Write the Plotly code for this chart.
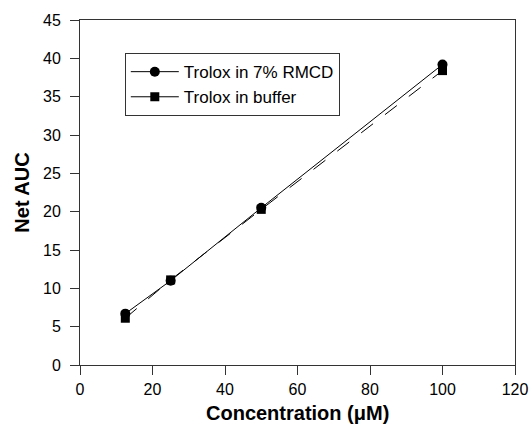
import plotly.graph_objects as go

conc = [12.5, 25, 50, 100]
auc_rmcd = [6.7, 11.0, 20.5, 39.2]
auc_buffer = [6.1, 11.1, 20.3, 38.4]
name_rmcd = "Trolox in 7% RMCD"
name_buffer = "Trolox in buffer"
x_ticks = [0, 20, 40, 60, 80, 100, 120]
y_ticks = [0, 5, 10, 15, 20, 25, 30, 35, 40, 45]
x_title = "<b>Concentration (\u03bcM)</b>"
y_title = "<b>Net AUC</b>"

FONT = "Arial, Liberation Sans"

fig = go.Figure()
# connecting lines
fig.add_trace(go.Scatter(x=conc, y=auc_rmcd, mode="lines", line=dict(color="black", width=1),
                         showlegend=False, hoverinfo="skip"))
fig.add_trace(go.Scatter(x=conc, y=auc_buffer, mode="lines", line=dict(color="black", width=1, dash="longdash"),
                         showlegend=False, hoverinfo="skip"))
# markers
fig.add_trace(go.Scatter(x=conc, y=auc_buffer, mode="markers", name=name_buffer,
                         marker=dict(symbol="square", size=9, color="black"), showlegend=False))
fig.add_trace(go.Scatter(x=conc, y=auc_rmcd, mode="markers", name=name_rmcd,
                         marker=dict(symbol="circle", size=10, color="black"), showlegend=False))
# legend entries
fig.add_trace(go.Scatter(x=[None], y=[None], mode="lines+markers", name=name_rmcd,
                         line=dict(color="black", width=1), marker=dict(symbol="circle", size=10, color="black")))
fig.add_trace(go.Scatter(x=[None], y=[None], mode="lines+markers", name=name_buffer,
                         line=dict(color="black", width=1), marker=dict(symbol="square", size=9, color="black")))

axis_common = dict(showline=True, linecolor="#333", linewidth=1, mirror=True, ticks="outside",
                   ticklen=9, tickcolor="#333", showgrid=False, zeroline=False, automargin=False,
                   tickfont=dict(family=FONT, size=16, color="black"))
fig.update_xaxes(range=[0, 120], tickvals=x_ticks, ticklabelstandoff=1, **axis_common)
fig.update_yaxes(range=[0, 45], tickvals=y_ticks, ticklabelstandoff=6,
                 title=dict(text=y_title, font=dict(family=FONT, size=20, color="black"), standoff=8),
                 **axis_common)
fig.add_annotation(text=x_title, xref="paper", yref="paper", x=0.5, y=0, xanchor="center",
                   yanchor="middle", yshift=-48, showarrow=False,
                   font=dict(family=FONT, size=20, color="black"))
fig.update_layout(width=532, height=437, margin=dict(l=80, r=17, t=20, b=72),
                  plot_bgcolor="white", paper_bgcolor="white",
                  font=dict(family=FONT, color="black"),
                  legend=dict(x=0.103, y=0.904, xanchor="left", yanchor="top",
                              bordercolor="#333", borderwidth=1, bgcolor="white",
                              font=dict(family=FONT, size=17, color="black"),
                              tracegroupgap=0, itemwidth=48))
fig.write_html("out.html", config={"displayModeBar": False},
               post_script="document.body.style.margin='0';document.body.style.overflow='hidden';")
